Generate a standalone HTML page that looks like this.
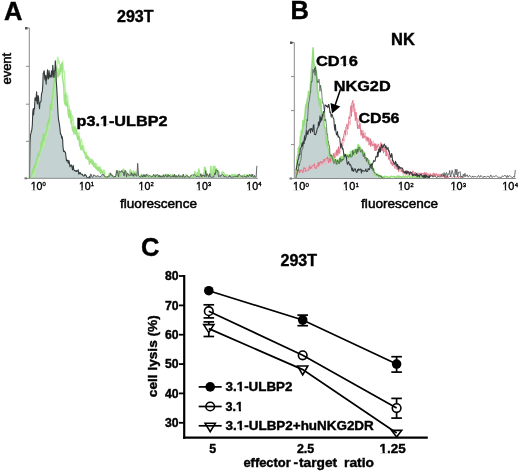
<!DOCTYPE html>
<html><head><meta charset="utf-8"><style>
html,body{margin:0;padding:0;background:#fff;}
svg{display:block;font-family:"Liberation Sans", sans-serif;}
</style></head><body>
<svg width="520" height="472" viewBox="0 0 520 472">
<defs><filter id="bl" x="0" y="0" width="100%" height="100%"><feGaussianBlur stdDeviation="0.45"/></filter></defs>
<g filter="url(#bl)">
<rect width="520" height="472" fill="#fff"/>
<text x="3.9" y="19.7" font-size="25.5" font-weight="bold" text-anchor="start" fill="#000" stroke="#000" stroke-width="0.4" >A</text>
<text x="290.5" y="19.3" font-size="25.5" font-weight="bold" text-anchor="start" fill="#000" stroke="#000" stroke-width="0.4" >B</text>
<text x="141.0" y="256.4" font-size="25.5" font-weight="bold" text-anchor="start" fill="#000" stroke="#000" stroke-width="0.4" >C</text>
<polygon points="29.5,178.3 29.5,178.3 29.8,155.3 30.0,142.5 30.5,134.7 31.0,133.4 31.4,130.6 31.8,130.1 32.3,125.2 32.8,111.7 33.2,108.7 33.6,115.0 34.0,108.4 34.5,109.1 35.0,97.7 35.5,99.7 36.0,100.3 36.6,91.8 37.0,102.4 37.5,104.0 38.0,95.5 38.5,96.9 39.0,103.5 39.5,108.7 39.9,103.2 40.4,102.1 41.0,101.4 41.5,94.0 41.9,92.7 42.3,91.8 42.8,84.7 43.2,73.5 43.7,72.2 44.2,70.8 44.7,78.1 45.2,80.1 45.7,75.3 46.1,84.1 46.5,78.1 47.0,76.8 47.5,69.7 48.0,79.0 48.5,78.7 49.0,70.5 49.5,74.7 50.0,77.7 50.4,75.5 50.9,76.5 51.5,70.8 52.0,77.3 52.4,72.8 52.8,65.4 53.2,70.9 53.6,76.4 54.0,77.5 54.4,71.1 54.9,70.2 55.3,60.9 55.8,68.6 56.2,80.7 56.7,87.1 57.2,95.6 57.7,107.2 58.2,116.2 58.7,120.7 59.1,122.5 59.6,125.8 60.0,129.0 60.5,134.1 60.9,134.0 61.3,135.1 61.7,138.2 62.1,136.6 62.6,139.0 63.0,146.7 63.6,151.5 64.2,150.9 64.8,152.0 65.4,152.0 65.9,156.0 66.5,160.9 67.1,160.5 67.7,160.1 68.3,163.3 68.9,160.5 69.5,163.4 70.0,166.8 70.5,165.3 71.0,165.3 71.5,165.0 72.0,167.4 72.6,170.0 73.2,165.2 73.8,169.7 74.4,170.3 75.0,171.0 75.5,170.7 76.1,171.5 76.6,170.5 77.1,171.1 77.7,171.0 78.2,169.7 78.8,174.1 79.4,173.3 80.0,172.3 80.6,173.9 81.1,174.2 81.7,174.0 82.3,174.2 82.8,175.3 83.4,175.9 83.9,176.0 84.4,175.6 85.0,174.3 85.5,175.2 86.0,175.2 86.6,176.7 87.1,177.8 87.7,177.7 88.3,177.8 88.9,178.0 89.4,176.3 90.0,178.3 90.5,174.2 91.3,174.3 92.1,177.3 92.9,177.2 93.7,174.8 94.5,175.3 95.3,175.6 96.1,176.8 96.9,175.8 97.7,175.8 98.5,175.9 99.3,177.1 100.1,176.4 100.9,176.6 101.7,175.3 102.5,174.0 103.3,174.3 104.1,176.0 104.9,176.3 105.7,176.8 106.5,177.3 107.3,177.3 108.1,176.0 108.9,176.5 109.7,176.2 110.5,172.9 111.3,175.3 112.1,175.0 112.9,176.7 113.7,177.3 114.5,176.2 115.3,177.0 116.1,175.0 116.9,170.2 117.7,173.4 118.5,176.8 119.3,170.8 120.1,171.7 120.9,172.3 121.7,170.4 122.5,172.2 123.3,172.1 124.1,175.9 124.9,170.4 125.7,170.8 126.5,176.9 127.3,173.2 128.1,173.7 128.9,175.6 129.7,175.2 130.5,175.5 131.3,172.6 132.1,175.6 132.9,173.7 133.7,176.4 134.5,173.7 135.3,173.8 136.1,176.2 136.9,175.8 137.7,163.3 138.5,175.3 139.3,176.3 140.1,177.0 140.9,176.8 141.7,175.4 142.5,177.1 143.3,174.5 144.1,176.9 144.9,174.5 145.7,176.8 146.5,174.2 147.3,175.4 148.1,176.2 148.9,176.1 149.7,175.6 150.5,175.9 151.3,176.8 152.1,177.0 152.9,176.2 153.7,174.3 154.5,175.8 155.3,177.2 156.1,174.9 156.9,175.3 157.7,174.5 158.5,177.1 159.3,175.2 160.1,177.3 160.9,175.6 161.7,176.9 162.5,177.0 163.3,174.6 164.1,177.2 164.9,176.1 165.7,174.7 166.5,177.0 167.3,177.0 168.1,174.6 168.9,176.5 169.7,175.4 170.5,177.3 171.3,176.6 172.1,177.1 172.9,175.5 173.7,177.2 174.5,174.2 175.3,177.3 176.1,175.3 176.9,177.3 177.7,176.9 178.5,174.9 179.3,177.1 180.1,177.1 180.9,175.5 181.7,176.6 182.5,177.3 183.3,174.1 184.1,177.1 184.9,177.3 185.7,176.7 186.5,175.8 187.3,175.3 188.1,177.2 188.9,176.7 189.7,177.3 190.5,176.4 191.3,175.1 192.1,175.3 192.9,174.5 193.7,175.2 194.5,174.7 195.3,175.4 196.1,176.3 196.9,177.0 197.7,175.6 198.5,176.8 199.3,177.2 200.1,176.2 200.9,173.7 201.7,177.1 202.5,175.0 203.3,176.0 204.1,175.1 204.9,177.0 205.7,170.6 206.5,176.4 207.3,173.7 208.1,175.2 208.9,177.3 209.7,173.6 210.5,176.9 211.3,177.2 212.1,177.3 212.9,176.8 213.7,177.1 214.5,173.0 215.3,174.5 216.1,169.6 216.9,170.6 217.7,170.4 218.5,176.7 219.3,175.6 220.1,176.7 220.9,175.1 221.7,175.1 222.5,174.3 223.3,175.1 224.1,176.9 224.9,176.5 225.7,176.1 226.5,177.3 227.3,177.3 228.1,176.5 228.9,177.2 229.7,175.3 230.5,177.0 231.3,177.2 232.1,177.1 232.9,177.0 233.7,177.0 234.5,176.1 235.3,176.3 236.1,176.8 236.9,175.7 237.7,177.0 238.5,174.5 239.3,174.2 240.1,175.3 240.9,176.4 241.7,176.2 242.5,175.9 243.3,177.3 244.1,176.5 244.9,176.1 245.7,177.1 246.5,177.2 247.3,175.0 248.1,176.6 248.9,176.1 249.7,174.4 250.5,175.8 251.3,176.8 252.1,174.1 252.9,176.6 253.7,177.3 254.5,175.5 255.3,177.2 256.1,176.8 256.9,165.8 257.0,178.3" fill="#c4d3d1" stroke="none"/>
<polyline points="31.1,178.3 31.6,177.9 32.1,177.8 32.6,175.2 33.1,175.8 33.6,176.1 34.2,174.5 34.7,169.2 35.3,169.8 35.9,167.9 36.5,165.4 37.0,166.6 37.6,161.9 38.2,159.6 38.8,161.5 39.4,157.6 40.0,153.2 40.5,151.5 41.1,151.3 41.7,145.8 42.3,148.8 42.8,148.2 43.4,143.5 43.9,145.6 44.5,144.6 45.0,139.2 45.6,138.7 46.1,131.1 46.7,128.3 47.2,135.8 47.8,126.3 48.4,123.4 49.0,128.8 49.5,125.1 50.1,115.8 50.6,115.5 51.1,111.9 51.6,109.7 52.1,103.7 52.6,107.6 53.1,101.4 53.6,99.3 54.1,93.1 54.6,88.1 55.1,82.9 55.6,90.7 56.1,83.0 56.6,74.4 57.1,62.3 57.6,57.1 58.1,58.3 58.6,63.1 59.1,60.8 59.6,66.1 60.1,67.0 60.6,68.9 61.1,71.8 61.6,64.9 62.1,64.1 62.6,61.3 63.1,66.1 63.6,71.9 64.1,70.6 64.6,73.2 65.0,86.1 65.4,91.7 65.9,99.3 66.5,92.6 67.0,104.8 67.6,95.8 68.1,104.8 68.7,105.7 69.2,106.2 69.8,115.4 70.3,115.2 70.9,110.8 71.5,116.9 72.0,120.3 72.6,115.8 73.2,118.0 73.8,125.3 74.3,128.1 74.9,126.7 75.5,127.7 76.0,130.1 76.6,129.0 77.2,136.9 77.8,139.1 78.3,135.6 78.9,132.4 79.5,137.5 80.1,142.8 80.6,139.5 81.2,138.9 81.8,141.0 82.4,147.0 82.9,147.2 83.5,145.4 84.1,149.4 84.7,151.7 85.2,154.5 85.8,154.5 86.4,152.3 87.0,156.3 87.5,158.2 88.1,158.6 88.7,158.7 89.3,158.4 89.8,158.8 90.4,162.2 91.0,161.6 91.6,162.9 92.2,160.1 92.7,159.8 93.3,161.6 93.9,164.3 94.4,164.9 95.0,163.1 95.6,163.7 96.2,168.9 96.8,164.0 97.4,169.6 98.0,169.2 98.6,168.5 99.2,171.4 99.8,170.1 100.4,166.9 101.0,172.4 101.6,170.1 102.2,173.1 102.7,172.9 103.3,170.0 103.9,170.0 104.5,170.4 105.0,174.3 105.6,174.8" fill="none" stroke="#b4ee9c" stroke-width="1.4" stroke-linejoin="round" opacity="0.9"/>
<polyline points="29.5,177.6 30.0,177.6 30.5,176.3 31.0,176.3 31.5,175.7 32.0,172.6 32.6,170.3 33.1,172.6 33.7,167.6 34.3,165.6 34.9,168.5 35.4,163.3 36.0,164.0 36.6,159.8 37.2,159.3 37.8,153.8 38.4,155.9 38.9,156.1 39.5,151.5 40.1,151.7 40.7,149.4 41.2,142.1 41.8,146.6 42.3,143.2 42.9,138.6 43.4,134.1 44.0,140.5 44.5,134.7 45.1,135.2 45.6,134.8 46.2,131.0 46.8,131.1 47.4,123.2 47.9,125.7 48.5,119.5 49.0,122.7 49.5,119.5 50.0,107.5 50.5,105.3 51.0,103.7 51.5,109.9 52.0,99.8 52.5,99.0 53.0,90.7 53.5,89.5 54.0,83.8 54.5,77.3 55.0,74.8 55.5,69.3 56.0,68.9 56.5,67.0 57.0,72.5 57.5,73.0 58.0,77.0 58.5,74.1 59.0,68.5 59.5,75.0 60.0,72.7 60.5,70.8 61.0,64.6 61.5,68.8 62.0,63.1 62.5,78.4 63.0,80.5 63.4,83.4 63.8,87.4 64.3,100.3 64.9,104.2 65.4,94.5 66.0,106.0 66.5,103.1 67.1,102.0 67.6,105.9 68.2,113.9 68.8,117.2 69.3,109.4 69.9,118.3 70.4,113.8 71.0,123.6 71.6,120.7 72.2,128.4 72.7,130.9 73.3,127.1 73.9,133.9 74.4,128.0 75.0,127.1 75.6,134.1 76.2,129.6 76.8,132.7 77.3,136.2 77.9,139.6 78.5,136.5 79.0,136.8 79.6,146.0 80.2,142.2 80.8,149.2 81.3,149.7 81.9,146.2 82.5,148.0 83.1,149.7 83.7,151.8 84.2,152.5 84.8,153.3 85.4,154.8 86.0,158.3 86.5,155.8 87.1,156.2 87.7,159.4 88.2,156.8 88.8,158.3 89.4,164.1 90.0,161.5 90.6,162.3 91.1,159.2 91.7,162.6 92.3,164.3 92.8,161.3 93.4,165.7 94.0,166.4 94.6,163.4 95.2,167.4 95.8,166.9 96.4,168.6 97.0,167.2 97.6,169.7 98.2,170.4 98.8,166.9 99.4,167.7 100.0,171.4 100.6,173.3 101.1,170.1 101.7,171.6 102.3,172.6 102.9,171.8 103.4,172.4 104.0,172.6 104.5,177.0 105.3,177.2 106.1,176.6 106.9,177.1 107.7,177.3 108.5,176.4 109.3,173.5 110.1,174.0 110.9,174.0 111.7,176.8 112.5,175.2 113.3,176.5 114.1,176.9 114.9,177.1 115.7,176.7 116.5,170.9 117.3,171.7 118.1,171.8 118.9,171.6 119.7,176.7 120.5,176.0 121.3,173.0 122.1,171.6 122.9,169.8 123.7,169.2 124.5,177.1 125.3,172.6 126.1,172.0 126.9,174.0 127.7,176.7 128.5,174.5 129.3,177.1 130.1,169.7 130.9,170.8 131.7,174.3 132.5,176.2 133.3,171.1 134.1,174.4 134.9,171.9 135.7,172.4 136.5,175.3 137.3,175.9 138.1,174.9 138.9,176.0 139.7,177.0 140.5,176.6 141.3,174.3 142.1,177.3 142.9,177.3 143.7,175.8 144.5,176.9 145.3,176.2 146.1,176.4 146.9,176.8 147.7,174.3 148.5,177.1 149.3,176.6 150.1,177.1 150.9,175.9 151.7,176.9 152.5,176.7 153.3,175.4 154.1,176.8 154.9,176.1 155.7,174.7 156.5,177.2 157.3,177.3 158.1,177.0 158.9,175.3 159.7,175.9 160.5,177.0 161.3,176.8 162.1,177.1 162.9,176.4 163.7,177.3 164.5,175.6 165.3,174.8 166.1,174.5 166.9,175.5 167.7,174.5 168.5,177.3 169.3,176.9 170.1,174.5 170.9,175.3 171.7,176.6 172.5,174.6 173.3,175.9 174.1,175.1 174.9,176.9 175.7,177.1 176.5,176.5 177.3,177.2 178.1,176.7 178.9,174.5 179.7,176.8 180.5,177.3 181.3,177.3 182.1,177.1 182.9,175.3 183.7,176.7 184.5,176.9 185.3,177.2 186.1,174.4 186.9,176.5 187.7,177.1 188.5,177.3 189.3,177.3 190.1,177.1 190.9,175.6 191.7,177.1 192.5,177.3 193.3,175.8 194.1,176.7 194.9,171.5 195.7,177.1 196.5,174.8 197.3,172.4 198.1,175.4 198.9,169.1 199.7,174.6 200.5,176.3 201.3,174.9 202.1,177.2 202.9,174.5 203.7,176.1 204.5,167.3 205.3,167.9 206.1,173.0 206.9,177.2 207.7,175.7 208.5,175.8 209.3,176.1 210.1,175.9 210.9,166.3 211.7,176.7 212.5,177.2 213.3,166.5 214.1,172.6 214.9,166.3 215.7,174.8 216.5,168.7 217.3,172.4 218.1,171.1 218.9,172.0 219.7,174.7 220.5,177.1 221.3,176.7 222.1,172.1 222.9,172.3 223.7,172.5 224.5,176.4 225.3,175.1 226.1,174.6 226.9,175.7 227.7,175.1 228.5,176.2 229.3,175.8 230.1,175.7 230.9,176.9 231.7,174.7 232.5,174.5 233.3,177.3 234.1,174.4 234.9,174.5 235.7,175.7 236.5,177.3 237.3,174.8 238.1,177.2 238.9,174.4 239.7,175.7 240.5,177.3 241.3,177.1 242.1,175.8 242.9,176.1 243.7,175.4 244.5,174.6 245.3,177.0 246.1,177.3 246.9,174.7 247.7,177.3 248.5,174.9 249.3,177.2 250.1,175.2 250.9,175.3 251.7,174.9 252.5,176.1 253.3,174.9 254.1,177.1 254.9,175.7" fill="none" stroke="#92e074" stroke-width="1.5" stroke-linejoin="round" opacity="0.85"/>
<polyline points="29.5,178.3 29.8,155.3 30.0,142.5 30.5,134.7 31.0,133.4 31.4,130.6 31.8,130.1 32.3,125.2 32.8,111.7 33.2,108.7 33.6,115.0 34.0,108.4 34.5,109.1 35.0,97.7 35.5,99.7 36.0,100.3 36.6,91.8 37.0,102.4 37.5,104.0 38.0,95.5 38.5,96.9 39.0,103.5 39.5,108.7 39.9,103.2 40.4,102.1 41.0,101.4 41.5,94.0 41.9,92.7 42.3,91.8 42.8,84.7 43.2,73.5 43.7,72.2 44.2,70.8 44.7,78.1 45.2,80.1 45.7,75.3 46.1,84.1 46.5,78.1 47.0,76.8 47.5,69.7 48.0,79.0 48.5,78.7 49.0,70.5 49.5,74.7 50.0,77.7 50.4,75.5 50.9,76.5 51.5,70.8 52.0,77.3 52.4,72.8 52.8,65.4 53.2,70.9 53.6,76.4 54.0,77.5 54.4,71.1 54.9,70.2 55.3,60.9 55.8,68.6 56.2,80.7 56.7,87.1 57.2,95.6 57.7,107.2 58.2,116.2 58.7,120.7 59.1,122.5 59.6,125.8 60.0,129.0 60.5,134.1 60.9,134.0 61.3,135.1 61.7,138.2 62.1,136.6 62.6,139.0 63.0,146.7 63.6,151.5 64.2,150.9 64.8,152.0 65.4,152.0 65.9,156.0 66.5,160.9 67.1,160.5 67.7,160.1 68.3,163.3 68.9,160.5 69.5,163.4 70.0,166.8 70.5,165.3 71.0,165.3 71.5,165.0 72.0,167.4 72.6,170.0 73.2,165.2 73.8,169.7 74.4,170.3 75.0,171.0 75.5,170.7 76.1,171.5 76.6,170.5 77.1,171.1 77.7,171.0 78.2,169.7 78.8,174.1 79.4,173.3 80.0,172.3 80.6,173.9 81.1,174.2 81.7,174.0 82.3,174.2 82.8,175.3 83.4,175.9 83.9,176.0 84.4,175.6 85.0,174.3 85.5,175.2 86.0,175.2 86.6,176.7 87.1,177.8 87.7,177.7 88.3,177.8 88.9,178.0 89.4,176.3 90.0,178.3" fill="none" stroke="#343a3b" stroke-width="1.1" stroke-linejoin="round"/>
<polyline points="90.0,178.3 90.5,174.2 91.3,174.3 92.1,177.3 92.9,177.2 93.7,174.8 94.5,175.3 95.3,175.6 96.1,176.8 96.9,175.8 97.7,175.8 98.5,175.9 99.3,177.1 100.1,176.4 100.9,176.6 101.7,175.3 102.5,174.0 103.3,174.3 104.1,176.0 104.9,176.3 105.7,176.8 106.5,177.3 107.3,177.3 108.1,176.0 108.9,176.5 109.7,176.2 110.5,172.9 111.3,175.3 112.1,175.0 112.9,176.7 113.7,177.3 114.5,176.2 115.3,177.0 116.1,175.0 116.9,170.2 117.7,173.4 118.5,176.8 119.3,170.8 120.1,171.7 120.9,172.3 121.7,170.4 122.5,172.2 123.3,172.1 124.1,175.9 124.9,170.4 125.7,170.8 126.5,176.9 127.3,173.2 128.1,173.7 128.9,175.6 129.7,175.2 130.5,175.5 131.3,172.6 132.1,175.6 132.9,173.7 133.7,176.4 134.5,173.7 135.3,173.8 136.1,176.2 136.9,175.8 137.7,163.3 138.5,175.3 139.3,176.3 140.1,177.0 140.9,176.8 141.7,175.4 142.5,177.1 143.3,174.5 144.1,176.9 144.9,174.5 145.7,176.8 146.5,174.2 147.3,175.4 148.1,176.2 148.9,176.1 149.7,175.6 150.5,175.9 151.3,176.8 152.1,177.0 152.9,176.2 153.7,174.3 154.5,175.8 155.3,177.2 156.1,174.9 156.9,175.3 157.7,174.5 158.5,177.1 159.3,175.2 160.1,177.3 160.9,175.6 161.7,176.9 162.5,177.0 163.3,174.6 164.1,177.2 164.9,176.1 165.7,174.7 166.5,177.0 167.3,177.0 168.1,174.6 168.9,176.5 169.7,175.4 170.5,177.3 171.3,176.6 172.1,177.1 172.9,175.5 173.7,177.2 174.5,174.2 175.3,177.3 176.1,175.3 176.9,177.3 177.7,176.9 178.5,174.9 179.3,177.1 180.1,177.1 180.9,175.5 181.7,176.6 182.5,177.3 183.3,174.1 184.1,177.1 184.9,177.3 185.7,176.7 186.5,175.8 187.3,175.3 188.1,177.2 188.9,176.7 189.7,177.3 190.5,176.4 191.3,175.1 192.1,175.3 192.9,174.5 193.7,175.2 194.5,174.7 195.3,175.4 196.1,176.3 196.9,177.0 197.7,175.6 198.5,176.8 199.3,177.2 200.1,176.2 200.9,173.7 201.7,177.1 202.5,175.0 203.3,176.0 204.1,175.1 204.9,177.0 205.7,170.6 206.5,176.4 207.3,173.7 208.1,175.2 208.9,177.3 209.7,173.6 210.5,176.9 211.3,177.2 212.1,177.3 212.9,176.8 213.7,177.1 214.5,173.0 215.3,174.5 216.1,169.6 216.9,170.6 217.7,170.4 218.5,176.7 219.3,175.6 220.1,176.7 220.9,175.1 221.7,175.1 222.5,174.3 223.3,175.1 224.1,176.9 224.9,176.5 225.7,176.1 226.5,177.3 227.3,177.3 228.1,176.5 228.9,177.2 229.7,175.3 230.5,177.0 231.3,177.2 232.1,177.1 232.9,177.0 233.7,177.0 234.5,176.1 235.3,176.3 236.1,176.8 236.9,175.7 237.7,177.0 238.5,174.5 239.3,174.2 240.1,175.3 240.9,176.4 241.7,176.2 242.5,175.9 243.3,177.3 244.1,176.5 244.9,176.1 245.7,177.1 246.5,177.2 247.3,175.0 248.1,176.6 248.9,176.1 249.7,174.4 250.5,175.8 251.3,176.8 252.1,174.1 252.9,176.6 253.7,177.3 254.5,175.5 255.3,177.2 256.1,176.8 256.9,165.8" fill="none" stroke="#4a4f50" stroke-width="0.85" stroke-linejoin="round"/>
<line x1="29.3" y1="28" x2="29.3" y2="178.3" stroke="#8a8a8a" stroke-width="1"/>
<line x1="29.3" y1="178.3" x2="258" y2="178.3" stroke="#8a8a8a" stroke-width="1"/>
<line x1="26" y1="28.0" x2="29.3" y2="28.0" stroke="#8a8a8a" stroke-width="1"/>
<line x1="26" y1="66.3" x2="29.3" y2="66.3" stroke="#8a8a8a" stroke-width="1"/>
<line x1="26" y1="104.2" x2="29.3" y2="104.2" stroke="#8a8a8a" stroke-width="1"/>
<line x1="26" y1="141.3" x2="29.3" y2="141.3" stroke="#8a8a8a" stroke-width="1"/>
<line x1="26" y1="178.4" x2="29.3" y2="178.4" stroke="#8a8a8a" stroke-width="1"/>
<rect x="25" y="27" width="2.5" height="2.5" fill="#555"/>
<rect x="24.5" y="177.3" width="2.5" height="2" fill="#777"/>
<text x="30.7" y="189.6" font-size="10.6" fill="#000" stroke="#000" stroke-width="0.35">10<tspan font-size="5.8" dx="0.1" dy="-3.8">0</tspan></text>
<text x="78.9" y="189.6" font-size="10.6" fill="#000" stroke="#000" stroke-width="0.35">10<tspan font-size="5.8" dx="0.1" dy="-3.8">1</tspan></text>
<text x="138.5" y="189.6" font-size="10.6" fill="#000" stroke="#000" stroke-width="0.35">10<tspan font-size="5.8" dx="0.1" dy="-3.8">2</tspan></text>
<text x="196.1" y="189.6" font-size="10.6" fill="#000" stroke="#000" stroke-width="0.35">10<tspan font-size="5.8" dx="0.1" dy="-3.8">3</tspan></text>
<text x="246.29999999999998" y="189.6" font-size="10.6" fill="#000" stroke="#000" stroke-width="0.35">10<tspan font-size="5.8" dx="0.1" dy="-3.8">4</tspan></text>
<text x="120.0" y="207.7" font-size="13.4" font-weight="normal" text-anchor="start" fill="#000" stroke="#000" stroke-width="0.5" textLength="77" lengthAdjust="spacingAndGlyphs" >fluorescence</text>
<text x="76.5" y="126.2" font-size="14" font-weight="bold" text-anchor="start" fill="#000" stroke="#000" stroke-width="0.4" textLength="91" lengthAdjust="spacingAndGlyphs" >p3.1-ULBP2</text>
<text x="117.0" y="22" font-size="16" font-weight="bold" text-anchor="start" fill="#000" stroke="#000" stroke-width="0.4" >293T</text>
<text x="0" y="0" font-size="13" font-weight="normal" text-anchor="start" fill="#000" stroke="#000" stroke-width="0.5" transform="translate(10.7,84.6) rotate(-90)">event</text>
<polygon points="295.0,178.5 295.3,178.5 295.9,172.8 296.5,168.2 297.0,161.0 297.5,156.3 298.0,153.9 298.5,148.2 299.0,147.5 299.5,145.8 300.0,144.4 300.5,136.4 301.0,135.0 301.5,130.3 302.0,133.4 302.5,129.4 303.0,120.7 303.5,126.2 304.0,123.2 304.5,117.4 305.0,114.8 305.5,108.1 306.0,104.4 306.5,107.3 307.1,99.9 307.6,98.5 308.2,96.4 308.6,91.6 309.1,93.8 309.6,91.0 310.0,93.0 310.5,83.5 311.0,79.0 311.5,69.9 312.0,64.5 312.6,56.0 313.1,47.7 313.6,60.4 314.0,63.8 314.5,66.7 315.0,70.0 315.5,70.2 316.0,74.2 316.5,78.4 317.0,79.4 317.5,91.2 318.0,91.1 318.5,99.4 319.0,97.9 319.5,105.4 320.0,105.7 320.5,99.4 321.0,104.1 321.5,113.6 322.0,111.7 322.5,119.0 323.0,115.9 323.5,115.4 324.0,123.0 324.5,128.0 325.0,127.2 325.5,129.5 326.0,135.3 326.5,143.5 327.0,145.0 327.5,143.4 328.0,147.6 328.5,148.4 329.0,149.9 329.5,156.5 330.0,154.2 330.5,157.1 331.0,156.9 331.5,155.8 332.0,159.7 332.6,156.6 333.1,160.3 333.7,157.8 334.3,160.2 334.8,159.7 335.4,160.6 335.9,164.5 336.4,163.4 337.0,160.3 337.5,163.5 338.0,159.5 338.6,160.1 339.1,162.4 339.7,160.7 340.3,157.1 340.9,162.0 341.4,156.9 342.0,156.7 342.6,159.6 343.1,156.6 343.7,156.1 344.3,154.4 344.9,154.3 345.4,157.1 346.0,154.6 346.6,156.6 347.1,154.9 347.7,155.1 348.3,158.1 348.9,154.8 349.4,155.1 350.0,156.7 350.6,151.9 351.1,151.4 351.7,156.0 352.2,155.1 352.8,151.0 353.3,150.3 353.9,153.6 354.4,154.7 355.0,149.3 355.6,153.9 356.1,152.9 356.7,150.4 357.3,148.6 357.9,145.8 358.4,144.7 359.0,150.8 359.6,146.4 360.2,150.5 360.8,148.1 361.4,152.8 362.0,152.0 362.6,151.0 363.2,151.2 363.8,155.8 364.4,152.5 365.0,154.5 365.6,157.6 366.2,160.4 366.8,159.9 367.4,158.9 368.0,163.6 368.6,160.5 369.1,160.4 369.7,162.8 370.3,164.8 370.9,163.8 371.4,165.4 372.0,167.3 372.6,169.3 373.2,168.2 373.8,170.3 374.4,173.5 375.0,174.8 375.6,174.1 376.2,174.8 376.8,175.0 377.3,174.1 377.9,174.5 378.5,175.1 379.1,178.0 379.7,177.4 380.3,178.3 380.9,175.5 381.5,177.4 382.0,177.1 382.6,177.9 383.2,176.8 383.8,178.5 384.4,176.3 385.0,177.7 385.0,178.5" fill="#c4d3d1" stroke="none"/>
<polyline points="295.8,170.4 296.4,173.7 296.9,170.7 297.5,172.2 298.0,173.2 298.6,173.8 299.1,171.9 299.7,172.0 300.2,169.4 300.8,171.4 301.4,170.9 301.9,173.3 302.5,171.4 303.0,172.4 303.6,170.4 304.1,168.7 304.7,172.3 305.2,171.9 305.8,169.2 306.4,167.2 306.9,169.3 307.5,168.9 308.0,170.2 308.6,168.9 309.1,168.0 309.7,168.1 310.2,166.5 310.8,164.1 311.4,164.0 311.9,169.6 312.5,168.9 313.0,165.2 313.6,169.0 314.1,166.5 314.7,163.6 315.2,168.5 315.8,166.6 316.4,168.7 316.9,166.8 317.5,162.6 318.0,166.0 318.6,166.9 319.1,167.4 319.7,163.3 320.2,164.5 320.8,165.5 321.4,161.4 322.0,165.9 322.6,165.1 323.1,159.5 323.7,163.1 324.3,161.1 324.9,159.5 325.5,162.2 326.1,164.7 326.6,161.2 327.2,157.5 327.8,160.1 328.4,162.1 328.9,163.2 329.5,161.1 330.0,155.6 330.6,162.6 331.1,159.5 331.7,155.1 332.2,155.2 332.8,154.6 333.4,158.6 333.9,153.8 334.5,158.6 335.0,152.1 335.6,155.1 336.1,153.7 336.7,149.6 337.2,148.6 337.8,155.9 338.3,155.8 338.8,147.4 339.3,152.1 339.8,153.7 340.3,152.2 340.8,150.7 341.3,144.1 341.8,146.4 342.3,142.9 342.8,146.0 343.4,142.1 343.9,142.1 344.5,140.8 345.1,134.2 345.6,136.4 346.2,128.2 346.7,128.1 347.3,135.1 347.8,127.6 348.3,129.3 348.8,126.4 349.3,121.0 349.8,123.4 350.3,124.8 350.8,115.0 351.3,112.6 351.8,107.9 352.3,105.6 352.8,112.1 353.2,108.4 353.7,109.9 354.2,108.6 354.7,115.3 355.1,108.3 355.6,110.8 356.2,112.9 356.7,116.7 357.3,125.9 357.8,118.0 358.4,122.5 358.9,119.3 359.4,120.5 359.9,127.5 360.4,129.2 360.8,128.9 361.3,134.5 361.8,134.8 362.2,136.7 362.7,133.5 363.2,130.9 363.7,130.5 364.2,138.4 364.8,132.9 365.3,132.3 365.9,140.8 366.4,136.0 367.0,142.3 367.6,138.3 368.1,140.9 368.7,137.0 369.2,141.0 369.8,140.8 370.4,140.6 371.0,139.8 371.5,144.6 372.1,146.2 372.7,141.8 373.2,140.8 373.7,143.4 374.2,148.0 374.8,144.4 375.3,148.4 375.8,143.4 376.3,149.5 376.8,144.4 377.4,145.4 377.9,150.4 378.4,148.2 378.9,149.5 379.4,145.9 379.8,149.3 380.3,145.5 380.8,147.0 381.2,146.5 381.7,150.8 382.2,149.1 382.7,147.8 383.2,151.4 383.8,149.9 384.3,151.7 384.8,150.5 385.3,151.7 385.8,149.1 386.4,156.1 386.9,154.1 387.4,156.3 387.9,155.1 388.5,151.2 389.1,152.9 389.6,160.3 390.2,159.8 390.8,162.3 391.4,163.1 392.0,158.9 392.5,165.4 393.1,163.4 393.7,165.1 394.2,164.2 394.7,163.0 395.3,165.2 395.8,165.6 396.3,165.2 396.8,165.9 397.3,167.0 397.9,166.3 398.4,165.9 398.9,170.4 399.4,168.1 400.0,168.5 400.5,171.3 401.1,171.1 401.7,169.9 402.2,169.5 402.8,172.5 403.4,169.7 403.9,171.2 404.5,171.0 405.1,174.6 405.7,170.9 406.2,173.0 406.8,172.9 407.4,170.5 408.0,171.3 408.6,174.8 409.2,174.4 409.8,171.6 410.4,171.4 411.0,175.3 411.6,173.6 412.2,174.3 412.8,175.2 413.4,172.1 413.9,173.4 414.5,175.5 415.1,172.0 415.7,172.4 416.2,175.5 416.8,175.4 417.4,173.9 417.9,172.1 418.5,175.5 419.1,173.1 419.7,175.3 420.2,173.0 420.8,172.6 421.4,175.1 422.0,173.8 422.6,173.7 423.2,174.0 423.7,174.1 424.3,174.2 424.9,175.1 425.5,172.6 426.1,175.2 426.7,174.4 427.3,175.9 427.9,173.6 428.4,175.3 429.0,173.3 429.6,175.5 430.2,175.5 430.8,174.9 431.4,174.6 432.0,176.8 432.6,174.2 433.2,173.1 433.7,174.2 434.3,173.0 434.9,176.8 435.5,176.6 436.1,173.8 436.7,175.8 437.3,174.0 437.9,176.8 438.4,175.0 439.0,173.6 439.6,176.1 440.2,173.8 440.8,177.2 441.4,177.5 441.9,176.3 442.5,175.0 443.1,177.2 443.7,174.5 444.2,175.0 444.8,175.8 445.4,175.1 445.9,178.2 446.5,177.5 447.1,178.1 447.7,177.7 448.2,176.4 448.8,176.8" fill="none" stroke="#f2b0bc" stroke-width="0.9" stroke-linejoin="round" opacity="0.9"/>
<polyline points="295.0,171.5 295.6,173.6 296.1,173.5 296.7,174.2 297.2,170.7 297.8,170.8 298.3,170.3 298.9,170.6 299.4,173.1 300.0,169.8 300.6,171.8 301.1,169.8 301.7,170.0 302.2,170.6 302.8,172.6 303.3,171.1 303.9,167.5 304.4,168.8 305.0,167.8 305.6,171.7 306.1,171.1 306.7,170.8 307.2,170.6 307.8,169.8 308.3,170.7 308.9,169.5 309.4,165.7 310.0,169.2 310.6,166.8 311.1,168.4 311.7,167.1 312.2,166.1 312.8,165.5 313.3,165.9 313.9,165.0 314.4,163.6 315.0,168.1 315.6,167.8 316.1,168.8 316.7,166.6 317.2,165.5 317.8,166.6 318.3,162.2 318.9,165.7 319.4,163.9 320.0,161.8 320.6,161.6 321.2,163.6 321.8,161.3 322.3,162.5 322.9,163.2 323.5,161.3 324.1,159.0 324.7,161.4 325.2,159.1 325.8,158.8 326.4,158.1 327.0,159.1 327.6,156.6 328.1,160.8 328.7,162.9 329.2,158.3 329.8,160.6 330.3,162.1 330.9,154.8 331.4,155.3 332.0,160.4 332.6,160.0 333.1,157.8 333.7,153.2 334.2,154.7 334.8,157.9 335.3,157.5 335.9,156.2 336.4,150.3 337.0,155.5 337.5,150.4 338.0,152.7 338.5,146.6 339.0,153.6 339.5,149.4 340.0,149.2 340.5,142.9 341.0,145.4 341.5,143.7 342.0,142.5 342.6,138.5 343.1,140.9 343.7,135.3 344.3,133.2 344.8,130.4 345.4,134.8 345.9,127.0 346.5,126.9 347.0,123.8 347.5,128.8 348.0,126.2 348.5,124.4 349.0,116.7 349.5,119.0 350.0,115.2 350.5,109.3 351.0,105.5 351.5,116.4 351.9,102.6 352.4,102.9 352.9,100.3 353.4,107.6 353.9,103.5 354.3,111.6 354.8,113.1 355.4,120.7 355.9,112.0 356.5,117.8 357.0,121.4 357.6,128.7 358.1,124.7 358.6,125.8 359.1,129.0 359.6,125.5 360.0,123.4 360.5,129.7 361.0,135.3 361.4,134.3 361.9,129.9 362.4,135.6 362.9,138.4 363.4,133.0 364.0,137.5 364.5,136.1 365.1,136.1 365.6,137.7 366.2,138.0 366.8,139.8 367.3,136.9 367.9,140.9 368.4,138.0 369.0,145.1 369.6,144.0 370.2,138.5 370.7,146.6 371.3,141.3 371.9,144.6 372.4,145.7 372.9,144.0 373.4,144.1 374.0,145.9 374.5,143.5 375.0,150.9 375.5,143.9 376.0,150.9 376.6,145.4 377.1,146.4 377.6,147.4 378.1,143.8 378.6,144.4 379.0,146.4 379.5,146.9 380.0,150.8 380.4,151.7 380.9,142.5 381.4,147.0 381.9,143.9 382.4,151.0 383.0,147.2 383.5,153.2 384.0,150.8 384.5,147.6 385.0,147.2 385.6,150.0 386.1,156.1 386.6,150.5 387.1,154.0 387.7,154.1 388.3,154.9 388.8,159.6 389.4,155.9 390.0,160.9 390.6,161.3 391.2,164.2 391.7,161.9 392.3,165.7 392.9,163.0 393.4,164.6 393.9,165.5 394.5,167.6 395.0,168.5 395.5,164.0 396.0,164.6 396.5,167.5 397.1,169.7 397.6,168.4 398.1,167.4 398.6,171.8 399.2,168.1 399.7,167.2 400.3,167.3 400.9,167.5 401.4,171.8 402.0,168.6 402.6,172.3 403.1,173.4 403.7,174.3 404.3,173.6 404.9,171.8 405.4,173.1 406.0,174.4 406.6,173.9 407.2,171.8 407.8,174.2 408.4,171.0 409.0,172.0 409.6,175.5 410.2,173.0 410.8,172.0 411.4,174.6 412.0,173.0 412.6,170.9 413.1,171.1 413.7,172.3 414.3,172.7 414.9,175.7 415.4,172.4 416.0,175.4 416.6,175.5 417.1,173.5 417.7,176.2 418.3,175.2 418.9,174.0 419.4,173.0 420.0,174.0 420.6,176.1 421.2,174.4 421.8,172.9 422.4,173.7 422.9,174.2 423.5,172.9 424.1,174.7 424.7,172.3 425.3,175.9 425.9,173.0 426.5,172.7 427.1,174.9 427.6,173.7 428.2,176.3 428.8,174.6 429.4,174.7 430.0,176.2 430.6,173.5 431.2,175.9 431.8,175.5 432.4,174.6 432.9,177.0 433.5,172.9 434.1,176.6 434.7,173.6 435.3,176.6 435.9,173.8 436.5,173.4 437.1,175.3 437.6,177.2 438.2,174.4 438.8,175.5 439.4,176.0 440.0,174.6 440.6,175.9 441.1,173.9 441.7,175.8 442.3,177.2 442.9,175.7 443.4,175.4 444.0,174.9 444.6,177.4 445.1,176.6 445.7,178.4 446.3,177.9 446.9,175.9 447.4,178.5 448.0,178.5 448.5,177.5 449.3,176.6 450.1,176.7 450.9,176.1 451.7,177.3 452.5,177.3 453.3,176.6 454.1,176.7 454.9,177.3 455.7,176.7 456.5,177.2 457.3,176.5 458.1,177.5 458.9,177.4 459.7,176.2 460.5,177.2 461.3,177.3 462.1,176.4 462.9,176.8 463.7,177.4 464.5,176.9" fill="none" stroke="#de7488" stroke-width="1.0" stroke-linejoin="round" opacity="0.9"/>
<polyline points="295.3,178.5 295.9,172.8 296.5,168.2 297.0,161.0 297.5,156.3 298.0,153.9 298.5,148.2 299.0,147.5 299.5,145.8 300.0,144.4 300.5,136.4 301.0,135.0 301.5,130.3 302.0,133.4 302.5,129.4 303.0,120.7 303.5,126.2 304.0,123.2 304.5,117.4 305.0,114.8 305.5,108.1 306.0,104.4 306.5,107.3 307.1,99.9 307.6,98.5 308.2,96.4 308.6,91.6 309.1,93.8 309.6,91.0 310.0,93.0 310.5,83.5 311.0,79.0 311.5,69.9 312.0,64.5 312.6,56.0 313.1,47.7 313.6,60.4 314.0,63.8 314.5,66.7 315.0,70.0 315.5,70.2 316.0,74.2 316.5,78.4 317.0,79.4 317.5,91.2 318.0,91.1 318.5,99.4 319.0,97.9 319.5,105.4 320.0,105.7 320.5,99.4 321.0,104.1 321.5,113.6 322.0,111.7 322.5,119.0 323.0,115.9 323.5,115.4 324.0,123.0 324.5,128.0 325.0,127.2 325.5,129.5 326.0,135.3 326.5,143.5 327.0,145.0 327.5,143.4 328.0,147.6 328.5,148.4 329.0,149.9 329.5,156.5 330.0,154.2 330.5,157.1 331.0,156.9 331.5,155.8 332.0,159.7 332.6,156.6 333.1,160.3 333.7,157.8 334.3,160.2 334.8,159.7 335.4,160.6 335.9,164.5 336.4,163.4 337.0,160.3 337.5,163.5 338.0,159.5 338.6,160.1 339.1,162.4 339.7,160.7 340.3,157.1 340.9,162.0 341.4,156.9 342.0,156.7 342.6,159.6 343.1,156.6 343.7,156.1 344.3,154.4 344.9,154.3 345.4,157.1 346.0,154.6 346.6,156.6 347.1,154.9 347.7,155.1 348.3,158.1 348.9,154.8 349.4,155.1 350.0,156.7 350.6,151.9 351.1,151.4 351.7,156.0 352.2,155.1 352.8,151.0 353.3,150.3 353.9,153.6 354.4,154.7 355.0,149.3 355.6,153.9 356.1,152.9 356.7,150.4 357.3,148.6 357.9,145.8 358.4,144.7 359.0,150.8 359.6,146.4 360.2,150.5 360.8,148.1 361.4,152.8 362.0,152.0 362.6,151.0 363.2,151.2 363.8,155.8 364.4,152.5 365.0,154.5 365.6,157.6 366.2,160.4 366.8,159.9 367.4,158.9 368.0,163.6 368.6,160.5 369.1,160.4 369.7,162.8 370.3,164.8 370.9,163.8 371.4,165.4 372.0,167.3 372.6,169.3 373.2,168.2 373.8,170.3 374.4,173.5 375.0,174.8 375.6,174.1 376.2,174.8 376.8,175.0 377.3,174.1 377.9,174.5 378.5,175.1 379.1,178.0 379.7,177.4 380.3,178.3 380.9,175.5 381.5,177.4 382.0,177.1 382.6,177.9 383.2,176.8 383.8,178.5 384.4,176.3 385.0,177.7 385.5,177.0 386.3,176.6 387.1,176.6 387.9,177.4 388.7,177.5 389.5,177.1 390.3,177.3 391.1,176.2 391.9,176.5 392.7,176.7 393.5,176.8 394.3,176.6 395.1,177.4 395.9,177.0 396.7,177.4 397.5,176.0 398.3,177.5 399.1,176.2 399.9,177.5 400.7,176.5 401.5,177.2 402.3,177.1 403.1,176.1 403.9,177.5 404.7,177.5 405.5,175.9 406.3,176.9 407.1,177.5 407.9,175.7 408.7,175.9 409.5,177.4 410.3,177.0 411.1,177.4 411.9,177.2 412.7,176.7 413.5,177.4 414.3,176.5 415.1,177.5 415.9,177.4 416.7,176.2 417.5,177.1 418.3,177.1 419.1,176.7 419.9,176.9 420.7,177.1 421.5,177.5 422.3,176.4 423.1,175.8 423.9,175.8 424.7,176.6 425.5,177.2 426.3,177.1 427.1,176.5 427.9,176.5 428.7,177.4 429.5,177.3" fill="none" stroke="#86da68" stroke-width="1.6" stroke-linejoin="round" opacity="0.85"/>
<polyline points="296.0,178.5 296.6,174.5 297.1,174.5 297.7,169.7 298.3,171.0 298.9,163.7 299.4,165.8 300.0,162.2 300.6,160.6 301.1,158.8 301.7,151.0 302.3,148.8 302.9,148.7 303.4,142.7 304.0,139.7 304.6,135.4 305.2,136.6 305.8,132.9 306.4,128.4 307.0,119.3 307.5,120.9 308.0,112.1 308.5,104.3 309.0,101.6 309.5,99.8 310.0,94.7 310.5,93.5 311.0,85.0 311.5,81.1 312.0,82.0 312.5,75.4 313.0,69.3 313.6,72.6 314.2,72.0 314.6,67.9 315.1,75.5 315.6,66.5 316.0,70.1 316.6,72.0 317.2,82.4 317.8,81.0 318.4,82.8 319.0,79.2 319.5,84.3 320.0,91.3 320.5,85.1 321.0,88.0 321.5,89.8 322.0,96.8 322.5,103.2 323.0,102.6 323.5,104.8 324.0,109.5 324.5,110.1 325.0,121.1 325.5,119.2 326.0,121.9 326.5,126.3 327.0,134.4 327.5,133.9 328.0,142.3 328.5,141.5 329.0,146.0 329.5,145.9 330.0,154.2 330.5,155.8 331.0,156.1 331.6,154.8 332.2,158.2 332.8,158.5 333.4,162.2 334.0,163.6 334.6,162.7 335.1,160.2 335.7,158.9 336.3,164.0 336.9,164.4 337.4,160.0 338.0,162.1 338.6,161.6 339.1,164.1 339.7,158.2 340.3,157.9 340.9,162.1 341.4,160.0 342.0,159.0 342.6,160.6 343.1,159.2 343.7,159.5 344.3,156.6 344.9,155.2 345.4,154.5 346.0,156.2 346.6,157.9 347.1,155.9 347.7,155.4 348.3,156.9 348.9,157.2 349.4,156.2 350.0,154.1 350.6,157.0 351.1,156.6 351.7,156.9 352.2,156.6 352.8,150.4 353.3,154.5 353.9,152.0 354.4,151.9 355.0,152.5 355.6,149.4 356.1,149.5 356.7,154.0 357.3,148.9 357.9,152.4 358.4,150.3 359.0,147.1 359.6,147.9 360.2,150.7 360.8,152.2 361.4,150.5 362.0,149.4 362.6,151.0 363.1,156.4 363.7,156.4 364.3,153.2 364.9,158.7 365.4,157.9 366.0,157.2 366.6,161.6 367.1,158.0 367.7,158.8 368.3,161.2 368.9,164.4 369.4,164.3 370.0,165.0 370.6,168.0 371.1,166.2 371.7,169.0 372.3,166.0 372.9,170.6 373.4,168.5 374.0,171.6 374.6,173.0 375.1,172.9 375.7,173.3 376.3,173.8 376.9,175.3 377.4,174.5 378.0,174.8 378.6,176.1 379.1,176.2 379.7,175.1 380.2,176.6 380.8,176.6 381.3,175.9 381.9,177.7 382.4,178.1 383.0,177.1" fill="none" stroke="#3d5a3d" stroke-width="0.9" stroke-linejoin="round" opacity="0.8"/>
<polyline points="296.0,170.3 296.5,168.1 297.0,165.1 297.5,162.6 298.0,159.6 298.6,159.0 299.2,154.4 299.8,154.7 300.3,148.4 300.9,148.2 301.5,146.3 302.0,143.3 302.5,146.3 303.0,141.6 303.5,143.8 304.1,143.6 304.6,136.6 305.1,140.3 305.7,138.1 306.2,136.4 306.8,130.6 307.4,133.6 307.9,134.4 308.4,131.1 309.0,129.9 309.5,130.0 310.0,128.9 310.5,132.8 311.0,128.4 311.6,128.4 312.1,129.7 312.7,131.7 313.3,125.3 313.9,124.7 314.4,134.2 315.0,134.5 315.6,134.8 316.1,133.2 316.7,131.5 317.1,128.8 317.6,128.0 318.1,127.4 318.5,121.9 319.0,125.8 319.5,124.3 320.0,115.9 320.6,122.2 321.2,117.5 321.8,120.2 322.3,114.5 322.9,116.2 323.5,111.5 324.0,112.3 324.5,110.4 325.0,104.8 325.5,105.2 326.0,105.3 326.5,106.5 327.0,105.7 327.5,106.9 328.0,107.6 328.5,104.4 328.9,104.5 329.4,107.3 329.9,112.6 330.3,111.8 330.7,113.1 331.2,117.3 331.6,114.3 332.1,114.7 332.7,116.3 333.2,118.2 333.8,118.8 334.3,125.9 334.8,130.1 335.4,124.6 335.9,131.1 336.5,134.8 337.0,134.9 337.5,131.5 338.1,137.3 338.6,135.9 339.1,137.0 339.7,137.6 340.2,143.3 340.8,148.0 341.3,143.8 341.9,145.9 342.5,149.2 343.0,148.4 343.6,152.9 344.1,156.2 344.7,156.0 345.2,154.5 345.8,155.7 346.4,157.9 346.9,161.8 347.4,164.4 348.0,163.1 348.6,161.8 349.1,163.3 349.7,165.2 350.3,164.4 350.9,165.4 351.4,167.8 352.0,170.6 352.6,167.9 353.1,171.2 353.7,171.3 354.2,169.5 354.8,168.8 355.3,168.8 355.9,171.2 356.4,172.1 357.0,172.5 357.6,169.6 358.1,170.6 358.7,168.8 359.2,170.0 359.8,170.0 360.3,169.2 360.9,169.0 361.4,173.1 362.0,170.0 362.6,170.9 363.1,171.0 363.7,170.8 364.2,171.3 364.8,170.9 365.3,170.8 365.9,169.0 366.4,171.5 367.0,171.6 367.6,171.3 368.1,168.7 368.7,168.8 369.2,169.8 369.8,168.8 370.3,164.8 370.9,165.5 371.4,164.0 372.0,166.2 372.6,163.6 373.1,162.5 373.7,160.6 374.2,160.9 374.8,161.5 375.3,160.0 375.9,156.5 376.4,156.6 377.0,157.1 377.6,152.1 378.1,156.4 378.7,149.3 379.3,152.1 379.9,147.5 380.4,151.9 381.0,148.8 381.6,144.7 382.1,146.0 382.6,147.7 383.2,147.1 383.8,144.9 384.3,144.0 384.8,145.7 385.4,147.9 385.9,145.8 386.4,147.5 386.9,149.7 387.5,148.6 388.0,147.4 388.6,151.1 389.1,150.6 389.7,154.2 390.3,155.5 390.9,157.6 391.4,153.6 392.0,154.3 392.6,160.9 393.1,160.6 393.7,163.1 394.3,163.0 394.9,164.7 395.4,161.2 396.0,162.4 396.6,165.4 397.1,166.8 397.7,164.2 398.3,169.1 398.9,166.2 399.4,166.8 400.0,168.6 400.6,167.8 401.1,167.7 401.7,168.0 402.2,168.1 402.8,169.0 403.3,171.7 403.9,172.4 404.4,172.7 405.0,171.5 405.6,173.1 406.1,170.7 406.7,174.0 407.2,172.3 407.8,171.4 408.3,172.7 408.9,172.1 409.4,174.5 410.0,173.3 410.6,172.0 411.2,172.8 411.8,172.5 412.4,175.9 412.9,174.0 413.5,175.5 414.1,174.9 414.7,174.3 415.3,175.6 415.9,175.1 416.5,173.4 417.1,176.9 417.6,174.7 418.2,175.9 418.8,175.2 419.4,177.1 420.0,174.6 420.6,174.2 421.2,174.3 421.8,175.5 422.4,177.0 422.9,175.8 423.5,177.4 424.1,174.9 424.7,177.6 425.3,175.1 425.9,177.5 426.5,175.3 427.1,176.6 427.6,176.8 428.2,177.9 428.8,176.2 429.4,177.6 430.0,175.2" fill="none" stroke="#353b3c" stroke-width="1.05" stroke-linejoin="round"/>
<polyline points="430.0,175.2 430.5,176.7 431.3,175.8 432.1,175.2 432.9,177.2 433.7,175.9 434.5,176.1 435.3,176.3 436.1,177.4 436.9,177.5 437.7,177.0 438.5,176.0 439.3,177.2 440.1,176.5 440.9,177.0 441.7,174.6 442.5,173.7 443.3,176.4 444.1,172.6 444.9,177.4 445.7,173.4 446.5,172.6 447.3,177.2 448.1,173.6 448.9,174.6 449.7,170.4 450.5,176.8 451.3,174.4 452.1,170.3 452.9,173.0 453.7,176.0 454.5,177.3 455.3,169.2 456.1,174.9 456.9,169.2 457.7,177.2 458.5,172.1 459.3,172.4 460.1,171.6 460.9,177.5 461.7,176.3 462.5,177.5 463.3,174.2 464.1,176.6 464.9,173.3 465.7,176.7 466.5,175.1 467.3,174.9 468.1,177.2 468.9,176.5 469.7,175.3 470.5,176.6 471.3,177.0 472.1,177.2 472.9,175.9 473.7,177.3 474.5,176.4 475.3,176.6 476.1,176.6 476.9,177.4 477.7,176.3 478.5,175.4 479.3,177.1 480.1,177.1 480.9,175.4 481.7,176.5 482.5,177.2 483.3,177.5 484.1,176.0 484.9,177.1 485.7,176.8 486.5,177.2 487.3,176.3 488.1,176.1 488.9,177.1 489.7,177.5 490.5,175.2 491.3,175.4 492.1,177.5 492.9,176.5 493.7,176.2 494.5,176.9 495.3,176.0 496.1,175.3 496.9,176.5 497.7,177.0 498.5,177.3 499.3,177.2 500.1,177.4 500.9,177.4 501.7,177.3 502.5,175.7 503.3,176.6 504.1,175.8 504.9,175.4 505.7,175.8 506.5,177.5 507.3,175.4 508.1,177.4 508.9,175.9 509.7,175.7 510.5,176.3 511.3,176.9 512.1,177.5 512.9,177.5 513.7,176.3 514.5,177.3 515.3,170.0" fill="none" stroke="#4a4f50" stroke-width="0.8" stroke-linejoin="round"/>
<line x1="294.3" y1="42.6" x2="294.3" y2="178.5" stroke="#8a8a8a" stroke-width="1"/>
<line x1="294.3" y1="178.5" x2="515.8" y2="178.5" stroke="#8a8a8a" stroke-width="1"/>
<line x1="291" y1="42.6" x2="294.3" y2="42.6" stroke="#8a8a8a" stroke-width="1"/>
<line x1="291" y1="76.6" x2="294.3" y2="76.6" stroke="#8a8a8a" stroke-width="1"/>
<line x1="291" y1="110.6" x2="294.3" y2="110.6" stroke="#8a8a8a" stroke-width="1"/>
<line x1="291" y1="144.6" x2="294.3" y2="144.6" stroke="#8a8a8a" stroke-width="1"/>
<line x1="291" y1="178.6" x2="294.3" y2="178.6" stroke="#8a8a8a" stroke-width="1"/>
<rect x="290" y="41.5" width="2.5" height="2.5" fill="#555"/>
<rect x="289.5" y="177.5" width="2.5" height="2" fill="#777"/>
<text x="293.1" y="189.6" font-size="10.9" fill="#000" stroke="#000" stroke-width="0.35">10<tspan font-size="6.1" dx="0.2" dy="-2.9">0</tspan></text>
<text x="343.1" y="189.6" font-size="10.9" fill="#000" stroke="#000" stroke-width="0.35">10<tspan font-size="6.1" dx="0.2" dy="-2.9">1</tspan></text>
<text x="397.90000000000003" y="189.6" font-size="10.9" fill="#000" stroke="#000" stroke-width="0.35">10<tspan font-size="6.1" dx="0.2" dy="-2.9">2</tspan></text>
<text x="450.40000000000003" y="189.6" font-size="10.9" fill="#000" stroke="#000" stroke-width="0.35">10<tspan font-size="6.1" dx="0.2" dy="-2.9">3</tspan></text>
<text x="502.3" y="189.6" font-size="10.9" fill="#000" stroke="#000" stroke-width="0.35">10<tspan font-size="6.1" dx="0.2" dy="-2.9">4</tspan></text>
<text x="361.1" y="207.5" font-size="13.4" font-weight="normal" text-anchor="start" fill="#000" stroke="#000" stroke-width="0.5" textLength="77" lengthAdjust="spacingAndGlyphs" >fluorescence</text>
<text x="391.0" y="44.8" font-size="16.5" font-weight="bold" text-anchor="start" fill="#000" stroke="#000" stroke-width="0.4" >NK</text>
<text x="316.0" y="66.2" font-size="14" font-weight="bold" text-anchor="start" fill="#000" stroke="#000" stroke-width="0.4" textLength="42" lengthAdjust="spacingAndGlyphs" >CD16</text>
<text x="333.7" y="90.8" font-size="14.5" font-weight="bold" text-anchor="start" fill="#000" stroke="#000" stroke-width="0.4" textLength="57" lengthAdjust="spacingAndGlyphs" >NKG2D</text>
<text x="358.5" y="123.1" font-size="15" font-weight="bold" text-anchor="start" fill="#000" stroke="#000" stroke-width="0.4" textLength="41.0" lengthAdjust="spacingAndGlyphs" >CD56</text>
<line x1="340.5" y1="89.3" x2="335.2" y2="105" stroke="#000" stroke-width="1.5"/>
<polygon points="330.5,103 340.3,106.5 332,113.5" fill="#000"/>
<text x="280.5" y="266.4" font-size="16" font-weight="bold" text-anchor="start" fill="#000" stroke="#000" stroke-width="0.4" >293T</text>
<line x1="184.2" y1="275" x2="184.2" y2="438.8" stroke="#000" stroke-width="2.2"/>
<line x1="183.1" y1="437.7" x2="427.8" y2="437.7" stroke="#000" stroke-width="2.2"/>
<line x1="179" y1="276.0" x2="184" y2="276.0" stroke="#000" stroke-width="1.8"/>
<text x="178.6" y="280.3" font-size="12.2" font-weight="bold" text-anchor="end" fill="#000" stroke="#000" stroke-width="0.4" >80</text>
<line x1="179" y1="305.4" x2="184" y2="305.4" stroke="#000" stroke-width="1.8"/>
<text x="178.6" y="309.66" font-size="12.2" font-weight="bold" text-anchor="end" fill="#000" stroke="#000" stroke-width="0.4" >70</text>
<line x1="179" y1="334.7" x2="184" y2="334.7" stroke="#000" stroke-width="1.8"/>
<text x="178.6" y="339.02000000000004" font-size="12.2" font-weight="bold" text-anchor="end" fill="#000" stroke="#000" stroke-width="0.4" >60</text>
<line x1="179" y1="364.1" x2="184" y2="364.1" stroke="#000" stroke-width="1.8"/>
<text x="178.6" y="368.38" font-size="12.2" font-weight="bold" text-anchor="end" fill="#000" stroke="#000" stroke-width="0.4" >50</text>
<line x1="179" y1="393.4" x2="184" y2="393.4" stroke="#000" stroke-width="1.8"/>
<text x="178.6" y="397.74" font-size="12.2" font-weight="bold" text-anchor="end" fill="#000" stroke="#000" stroke-width="0.4" >40</text>
<line x1="179" y1="422.8" x2="184" y2="422.8" stroke="#000" stroke-width="1.8"/>
<text x="178.6" y="427.1" font-size="12.2" font-weight="bold" text-anchor="end" fill="#000" stroke="#000" stroke-width="0.4" >30</text>
<text x="212.7" y="452.5" font-size="12.4" font-weight="bold" text-anchor="middle" fill="#000" stroke="#000" stroke-width="0.4" >5</text>
<text x="305.6" y="452.5" font-size="12.4" font-weight="bold" text-anchor="middle" fill="#000" stroke="#000" stroke-width="0.4" >2.5</text>
<text x="379.6" y="452.5" font-size="12.4" font-weight="bold" text-anchor="start" fill="#000" stroke="#000" stroke-width="0.4" textLength="26.2" lengthAdjust="spacingAndGlyphs" >1.25</text>
<text x="243.4" y="466.6" font-size="13.3" font-weight="bold" text-anchor="start" fill="#000" stroke="#000" stroke-width="0.4" textLength="47.4" lengthAdjust="spacingAndGlyphs" >effector</text>
<text x="293.4" y="466.6" font-size="13.3" font-weight="bold" text-anchor="start" fill="#000" stroke="#000" stroke-width="0.4" textLength="4.6" lengthAdjust="spacingAndGlyphs" >-</text>
<text x="299.0" y="466.6" font-size="13.6" font-weight="bold" text-anchor="start" fill="#000" stroke="#000" stroke-width="0.4" textLength="38.2" lengthAdjust="spacingAndGlyphs" >target</text>
<text x="344.0" y="466.6" font-size="13.6" font-weight="bold" text-anchor="start" fill="#000" stroke="#000" stroke-width="0.4" textLength="30.0" lengthAdjust="spacingAndGlyphs" >ratio</text>
<text x="0" y="0" font-size="13.5" font-weight="bold" text-anchor="start" fill="#000" stroke="#000" stroke-width="0.4" textLength="82" lengthAdjust="spacingAndGlyphs" transform="translate(157.2,397.2) rotate(-90)">cell lysis (%)</text>
<polyline points="208.8,290.7 302.7,320.0 396.6,364.1" fill="none" stroke="#000" stroke-width="1.7"/>
<polyline points="208.8,311.2 302.7,355.3 396.6,408.1" fill="none" stroke="#000" stroke-width="1.7"/>
<polyline points="208.8,328.6 302.7,369.6 396.6,433.0" fill="none" stroke="#000" stroke-width="1.7"/>
<line x1="208.8" y1="304.8" x2="208.8" y2="306.73199999999997" stroke="#000" stroke-width="1.7"/>
<line x1="208.8" y1="315.73199999999997" x2="208.8" y2="317.9" stroke="#000" stroke-width="1.7"/>
<line x1="203.5" y1="304.8" x2="214.10000000000002" y2="304.8" stroke="#000" stroke-width="1.7"/>
<line x1="203.5" y1="317.9" x2="214.10000000000002" y2="317.9" stroke="#000" stroke-width="1.7"/>
<line x1="208.8" y1="321.9" x2="208.8" y2="324.6" stroke="#000" stroke-width="1.7"/>
<line x1="208.8" y1="332.6" x2="208.8" y2="336.5" stroke="#000" stroke-width="1.7"/>
<line x1="203.5" y1="321.9" x2="214.10000000000002" y2="321.9" stroke="#000" stroke-width="1.7"/>
<line x1="203.5" y1="336.5" x2="214.10000000000002" y2="336.5" stroke="#000" stroke-width="1.7"/>
<line x1="302.7" y1="315.1" x2="302.7" y2="325.7" stroke="#000" stroke-width="1.7"/>
<line x1="297.4" y1="315.1" x2="308.0" y2="315.1" stroke="#000" stroke-width="1.7"/>
<line x1="297.4" y1="325.7" x2="308.0" y2="325.7" stroke="#000" stroke-width="1.7"/>
<line x1="396.6" y1="356.7" x2="396.6" y2="372.1" stroke="#000" stroke-width="1.7"/>
<line x1="391.3" y1="356.7" x2="401.90000000000003" y2="356.7" stroke="#000" stroke-width="1.7"/>
<line x1="391.3" y1="372.1" x2="401.90000000000003" y2="372.1" stroke="#000" stroke-width="1.7"/>
<line x1="396.6" y1="398.4" x2="396.6" y2="403.62" stroke="#000" stroke-width="1.7"/>
<line x1="396.6" y1="412.62" x2="396.6" y2="418.1" stroke="#000" stroke-width="1.7"/>
<line x1="391.3" y1="398.4" x2="401.90000000000003" y2="398.4" stroke="#000" stroke-width="1.7"/>
<line x1="391.3" y1="418.1" x2="401.90000000000003" y2="418.1" stroke="#000" stroke-width="1.7"/>
<circle cx="208.8" cy="290.7" r="4.8" fill="#000"/>
<circle cx="302.7" cy="320.0" r="4.8" fill="#000"/>
<circle cx="396.6" cy="364.1" r="4.8" fill="#000"/>
<circle cx="208.8" cy="311.2" r="4.3" fill="#fff" fill-opacity="0" stroke="#000" stroke-width="1.6"/>
<circle cx="302.7" cy="355.3" r="4.3" fill="#fff" fill-opacity="0" stroke="#000" stroke-width="1.6"/>
<circle cx="396.6" cy="408.1" r="4.3" fill="#fff" fill-opacity="0" stroke="#000" stroke-width="1.6"/>
<polygon points="203.7,324.6 213.9,324.6 208.8,332.6" fill="none" stroke="#000" stroke-width="1.6" stroke-linejoin="miter"/>
<polygon points="297.6,366.0 307.8,366.0 302.7,374.8" fill="none" stroke="#000" stroke-width="1.6" stroke-linejoin="miter"/>
<polygon points="391.5,430.4 401.7,430.4 396.6,436.9" fill="none" stroke="#000" stroke-width="1.6" stroke-linejoin="miter"/>
<line x1="198.7" y1="386.9" x2="221.7" y2="386.9" stroke="#000" stroke-width="1.7"/>
<circle cx="210.2" cy="386.9" r="4.8" fill="#000"/>
<line x1="198.7" y1="406.5" x2="221.7" y2="406.5" stroke="#000" stroke-width="1.7"/>
<circle cx="210.2" cy="406.5" r="4.3" fill="#fff" fill-opacity="0" stroke="#000" stroke-width="1.6"/>
<line x1="198.7" y1="425.8" x2="221.7" y2="425.8" stroke="#000" stroke-width="1.7"/>
<polygon points="205.1,423.3 215.3,423.3 210.2,431.6" fill="none" stroke="#000" stroke-width="1.6" stroke-linejoin="miter"/>
<text x="225.6" y="391.2" font-size="12.6" font-weight="bold" text-anchor="start" fill="#000" stroke="#000" stroke-width="0.4" textLength="66.8" lengthAdjust="spacingAndGlyphs" >3.1-ULBP2</text>
<text x="225.6" y="410.9" font-size="12.6" font-weight="bold" text-anchor="start" fill="#000" stroke="#000" stroke-width="0.4" >3.1</text>
<text x="225.6" y="430.3" font-size="12.6" font-weight="bold" text-anchor="start" fill="#000" stroke="#000" stroke-width="0.4" textLength="148.2" lengthAdjust="spacingAndGlyphs" >3.1-ULBP2+huNKG2DR</text>
<rect x="30.81" y="188.28" width="2.37" height="2.29" fill="#fff"/>
<rect x="34.50" y="188.28" width="2.28" height="2.29" fill="#fff"/>
<rect x="79.01" y="188.28" width="2.37" height="2.29" fill="#fff"/>
<rect x="82.70" y="188.28" width="2.28" height="2.29" fill="#fff"/>
<rect x="138.61" y="188.28" width="2.37" height="2.29" fill="#fff"/>
<rect x="142.30" y="188.28" width="2.28" height="2.29" fill="#fff"/>
<rect x="196.21" y="188.28" width="2.37" height="2.29" fill="#fff"/>
<rect x="199.90" y="188.28" width="2.28" height="2.29" fill="#fff"/>
<rect x="246.41" y="188.28" width="2.37" height="2.29" fill="#fff"/>
<rect x="250.10" y="188.28" width="2.28" height="2.29" fill="#fff"/>
<rect x="100.24" y="124.22" width="3.25" height="2.98" fill="#fff"/>
<rect x="106.15" y="124.22" width="3.04" height="2.98" fill="#fff"/>
<rect x="293.23" y="188.26" width="2.42" height="2.31" fill="#fff"/>
<rect x="297.00" y="188.26" width="2.33" height="2.31" fill="#fff"/>
<rect x="343.23" y="188.26" width="2.42" height="2.31" fill="#fff"/>
<rect x="347.00" y="188.26" width="2.33" height="2.31" fill="#fff"/>
<rect x="398.03" y="188.26" width="2.42" height="2.31" fill="#fff"/>
<rect x="401.80" y="188.26" width="2.33" height="2.31" fill="#fff"/>
<rect x="450.53" y="188.26" width="2.42" height="2.31" fill="#fff"/>
<rect x="454.30" y="188.26" width="2.33" height="2.31" fill="#fff"/>
<rect x="502.43" y="188.26" width="2.42" height="2.31" fill="#fff"/>
<rect x="506.20" y="188.26" width="2.33" height="2.31" fill="#fff"/>
<rect x="340.06" y="64.22" width="3.28" height="2.98" fill="#fff"/>
<rect x="346.04" y="64.22" width="3.07" height="2.98" fill="#fff"/>
<rect x="379.75" y="450.68" width="2.78" height="2.82" fill="#fff"/>
<rect x="384.82" y="450.68" width="2.61" height="2.82" fill="#fff"/>
<rect x="236.88" y="389.36" width="2.76" height="2.84" fill="#fff"/>
<rect x="241.91" y="389.36" width="2.59" height="2.84" fill="#fff"/>
<rect x="236.19" y="409.06" width="2.63" height="2.84" fill="#fff"/>
<rect x="241.00" y="409.06" width="2.47" height="2.84" fill="#fff"/>
<rect x="236.95" y="428.46" width="2.77" height="2.84" fill="#fff"/>
<rect x="242.01" y="428.46" width="2.60" height="2.84" fill="#fff"/>
</g>
</svg>
</body></html>
